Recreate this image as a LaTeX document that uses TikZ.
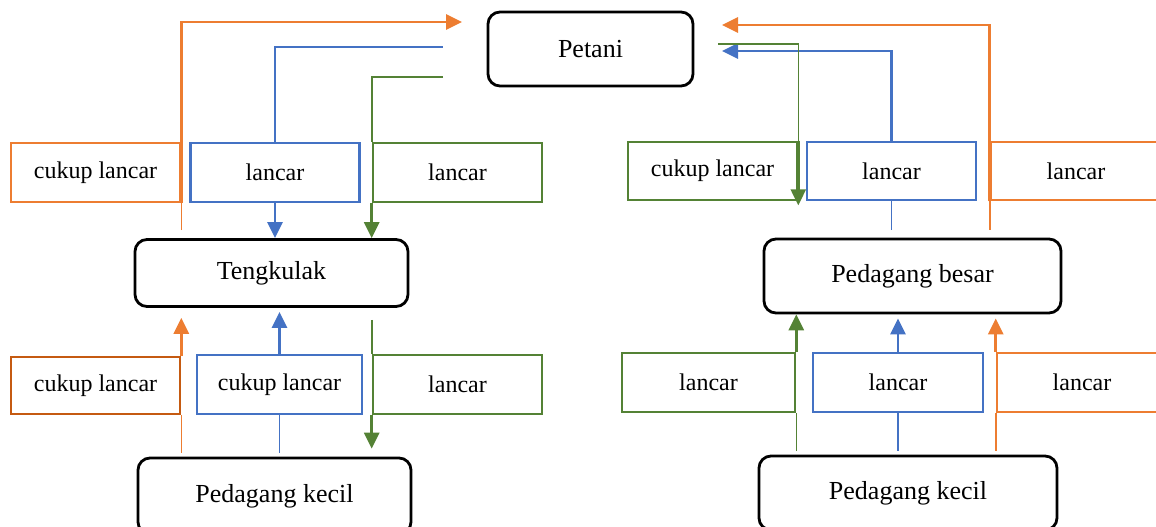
\documentclass[tikz,border=0pt]{standalone}
\usepackage{fontspec}
\setmainfont{Liberation Serif}
\usetikzlibrary{arrows.meta}

\definecolor{oranye}{HTML}{ED7D31}
\definecolor{oranyetua}{HTML}{C55A11}
\definecolor{biru}{HTML}{4472C4}
\definecolor{hijau}{HTML}{548235}

\tikzset{
  pelaku/.style={draw, rounded corners=6pt, line width=1.4pt, inner sep=0pt,
    font=\fontsize{13}{15}\selectfont},
  ket/.style={draw=#1, line width=1.3pt, inner sep=0pt,
    minimum width=84.5pt, minimum height=29.5pt, font=\fontsize{12}{14}\selectfont},
  alur/.style={draw=#1, line width=1.4pt, -{Triangle[length=8pt,width=7.5pt]}},
  tipis/.style={draw=#1, line width=0.8pt},
}

\begin{document}
\begin{tikzpicture}[x=0.5pt, y=-0.5pt]
				\clip (0,0) rectangle (1156,526);
				
				% pelaku pasar
				\node[pelaku, minimum width=102.5pt, minimum height=37pt] (petani) at (590.5,49) {Petani};
				\node[pelaku, minimum width=136.5pt, minimum height=33.5pt] (tengkulak) at (271.5,273) {Tengkulak};
				\node[pelaku, minimum width=136.5pt, minimum height=38pt] (pkkiri) at (274.5,496) {Pedagang kecil};
				\node[pelaku, minimum width=148.5pt, minimum height=37pt] (pbesar) at (912.5,276) {Pedagang besar};
				\node[pelaku, minimum width=149pt, minimum height=37pt] (pkkanan) at (908,493) {Pedagang kecil};
				
				% keterangan kiri
				\node[ket=oranye] (okiri1) at (95.5,172.5) {cukup lancar};
				\node[ket=biru] (bkiri1) at (275,172.5) {lancar};
				\node[ket=hijau] (hkiri1) at (457.5,172.5) {lancar};
				\node[ket=oranyetua, minimum height=28.5pt] (okiri2) at (95.5,385.5) {cukup lancar};
				\node[ket=biru, minimum width=82.5pt] (bkiri2) at (279.5,384.5) {cukup lancar};
				\node[ket=hijau] (hkiri2) at (457.5,384.5) {lancar};
				
				% keterangan kanan
				\node[ket=hijau, minimum height=29pt] (hkanan1) at (712.5,171) {cukup lancar};
				\node[ket=biru, minimum height=29pt] (bkanan1) at (891.5,171) {lancar};
				\node[ket=oranye, minimum height=29pt, minimum width=85pt] (okanan1) at (1076,171) {lancar};
				\node[ket=hijau, minimum width=86.5pt] (hkanan2) at (708.5,382.5) {lancar};
				\node[ket=biru, minimum width=85pt] (bkanan2) at (898,382.5) {lancar};
				\node[ket=oranye, minimum width=85pt] (okanan2) at (1082,382.5) {lancar};
				
				% ujung garis yang bebas
				\coordinate (oke1) at (462,22);
				\coordinate (bke1) at (443,47);
				\coordinate (hke1) at (443,77);
				\coordinate (oke2) at (722,25);
				\coordinate (bke2) at (722,51);
				\coordinate (hke2) at (718,44);
				
				% alur Tengkulak - Petani
				\draw[tipis=oranye, shorten <=4pt] (okiri1.south east |- tengkulak.north) -- (okiri1.south east);
				\draw[alur=oranye] (okiri1.south east) |- (oke1);
				\draw[tipis=biru] (bkiri1.north) |- (bke1);
				\draw[alur=biru] (bkiri1.south) -- (bkiri1.south |- tengkulak.north);
				\draw[tipis=hijau] (hke1) -| (hkiri1.north west);
				\draw[alur=hijau] (hkiri1.south west) -- (hkiri1.south west |- tengkulak.north);
				
				% alur Pedagang kecil - Tengkulak
				\draw[tipis=oranye, shorten <=2pt] (okiri2.south east |- pkkiri.north) -- (okiri2.south east);
				\draw[alur=oranye, shorten >=5pt] (okiri2.north east) -- (okiri2.north east |- tengkulak.south);
				\draw[tipis=biru, shorten <=2pt] (bkiri2.south |- pkkiri.north) -- (bkiri2.south);
				\draw[alur=biru, shorten >=2pt] (bkiri2.north) -- (bkiri2.north |- tengkulak.south);
				\draw[tipis=hijau, shorten <=6pt] (hkiri2.north west |- tengkulak.south) -- (hkiri2.north west);
				\draw[alur=hijau, shorten >=4pt] (hkiri2.south west) -- (hkiri2.south west |- pkkiri.north);
				
				% alur Pedagang besar - Petani
				\draw[tipis=oranye, shorten <=4pt] (okanan1.south west |- pbesar.north) -- (okanan1.south west);
				\draw[alur=oranye] (okanan1.south west) |- (oke2);
				\draw[tipis=biru, shorten <=4pt] (bkanan1.south |- pbesar.north) -- (bkanan1.south);
				\draw[alur=biru] (bkanan1.north) |- (bke2);
				\draw[tipis=hijau] (hke2) -| (hkanan1.north east);
				\draw[alur=hijau] (hkanan1.north east) -- ([yshift=-2pt]hkanan1.south east);
				
				% alur Pedagang kecil - Pedagang besar
				\draw[tipis=hijau, shorten <=2pt] (hkanan2.south east |- pkkanan.north) -- (hkanan2.south east);
				\draw[alur=hijau] (hkanan2.north east) -- (hkanan2.north east |- pbesar.south);
				\draw[tipis=biru, shorten <=2pt] (bkanan2.south |- pkkanan.north) -- (bkanan2.south);
				\draw[alur=biru, shorten >=2pt] (bkanan2.north) -- (bkanan2.north |- pbesar.south);
				\draw[tipis=oranye, shorten <=2pt] (okanan2.south west |- pkkanan.north) -- (okanan2.south west);
				\draw[alur=oranye, shorten >=2pt] (okanan2.north west) -- (okanan2.north west |- pbesar.south);
\end{tikzpicture}
\end{document}
